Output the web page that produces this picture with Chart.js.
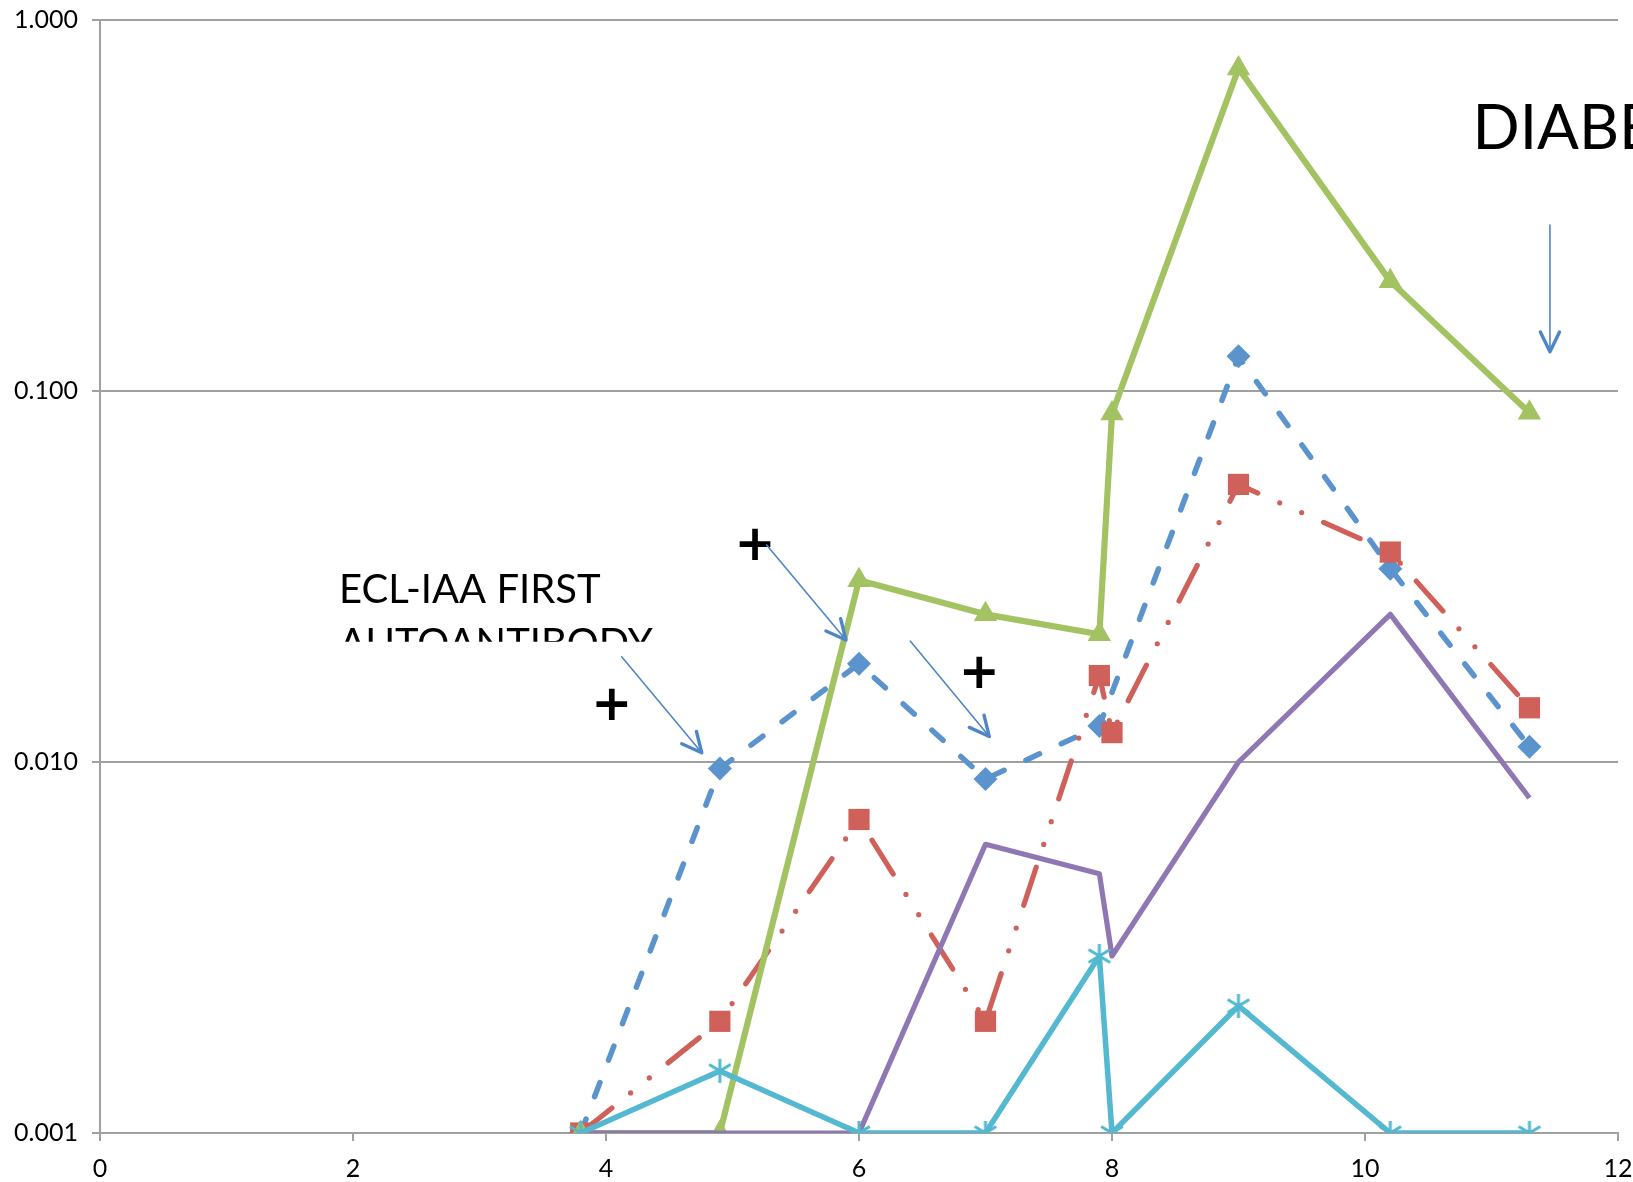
<!DOCTYPE html>
<html>
<head>
<meta charset="utf-8">
<script src="https://cdn.jsdelivr.net/npm/chart.js@4.4.1/dist/chart.umd.min.js"></script>
<style>
  html, body { margin: 0; padding: 0; background: #ffffff; }
  #wrap { width: 1633px; height: 1182px; }
</style>
</head>
<body>
<div id="wrap"><canvas id="c" width="1633" height="1182"></canvas></div>
<script>
// ---------- DATA ----------
const xTickValues = [0, 2, 4, 6, 8, 10, 12];
const yTickValues = [0.001, 0.01, 0.1, 1];
const yTickLabels = ["0.001", "0.010", "0.100", "1.000"];

const xBlue = [3.8, 4.9, 6.0, 7.0, 7.9, 9.0, 10.2, 11.3];
const yBlue = [0.001, 0.0096, 0.0184, 0.0090, 0.0125, 0.124, 0.0332, 0.0110];

const xRed = [3.8, 4.9, 6.0, 7.0, 7.9, 8.0, 9.0, 10.2, 11.3];
const yRed = [0.001, 0.0020, 0.0070, 0.0020, 0.0171, 0.0120, 0.056, 0.0368, 0.0140];

const xGreen = [3.8, 4.9, 6.0, 7.0, 7.9, 8.0, 9.0, 10.2, 11.3];
const yGreen = [0.001, 0.001, 0.0309, 0.0250, 0.0221, 0.0869, 0.740, 0.1975, 0.0874];

const xPurple = [3.8, 4.9, 6.0, 7.0, 7.9, 8.0, 9.0, 10.2, 11.3];
const yPurple = [0.001, 0.001, 0.001, 0.0060, 0.0050, 0.0030, 0.0100, 0.0250, 0.0080];

const xCyan = [3.8, 4.9, 6.0, 7.0, 7.9, 8.0, 9.0, 10.2, 11.3];
const yCyan = [0.001, 0.00147, 0.001, 0.001, 0.0030, 0.001, 0.0022, 0.001, 0.001];

// annotation anchors in data units
const textNotes = [
  { lines: ["ECL-IAA FIRST", "AUTOANTIBODY"], x: 1.89, y: [0.0269, 0.0192], clipY: 0.0211, size: 40 },
  { lines: ["DIABETES"], x: 10.85, y: [0.448], clipY: null, size: 62 }
];
const plusNotes = [
  { x: 4.045, y: 0.01433 },
  { x: 5.178, y: 0.03869 },
  { x: 6.951, y: 0.01751 }
];
const arrowNotes = [
  { x0: 4.124, y0: 0.01922, x1: 4.757, y1: 0.01059 },
  { x0: 5.270, y0: 0.03846, x1: 5.897, y1: 0.02132 },
  { x0: 6.405, y0: 0.02119, x1: 7.030, y1: 0.01171 },
  { x0: 11.462, y0: 0.2802, x1: 11.462, y1: 0.1276 }
];

// ---------- HELPERS ----------
function pts(xs, ys) { return xs.map((x, i) => ({ x: x, y: ys[i] })); }

const FONT = 'Lato, "Open Sans", "DejaVu Sans", sans-serif';
const GRID = '#a0a0a0';
const CYAN = '#53b8d0';

function zeroPad(scale) {
  scale.paddingLeft = 0; scale.paddingRight = 0;
  scale.paddingTop = 0; scale.paddingBottom = 0;
}

// asterisk marker (X plus vertical stroke), like the spreadsheet "star" marker
function makeAsterisk(size, color, lw) {
  const c = document.createElement('canvas');
  c.width = size; c.height = size;
  const g = c.getContext('2d');
  g.strokeStyle = color; g.lineWidth = lw; g.lineCap = 'butt';
  const r = size / 2 - 1, m = size / 2;
  const d = r * 0.9;
  g.beginPath();
  g.moveTo(m - d, m - d * 0.6); g.lineTo(m + d, m + d * 0.6);
  g.moveTo(m - d, m + d * 0.6); g.lineTo(m + d, m - d * 0.6);
  g.moveTo(m, m - r); g.lineTo(m, m + r);
  g.stroke();
  return c;
}
const asterisk = makeAsterisk(26, CYAN, 3);

const annotationPlugin = {
  id: 'notes',
  afterDraw(chart) {
    const ctx = chart.ctx;
    const xs = chart.scales.x, ys = chart.scales.y;
    ctx.save();
    // texts
    textNotes.forEach(n => {
      ctx.save();
      if (n.clipY !== null) {
        const cy = ys.getPixelForValue(n.clipY);
        ctx.beginPath();
        ctx.rect(0, 0, chart.width, cy);
        ctx.clip();
      }
      ctx.fillStyle = '#000000';
      ctx.font = n.size + 'px ' + FONT;
      ctx.textAlign = 'left';
      ctx.textBaseline = 'alphabetic';
      n.lines.forEach((t, i) => {
        ctx.fillText(t, xs.getPixelForValue(n.x), ys.getPixelForValue(n.y[i]));
      });
      ctx.restore();
    });
    // plus signs
    ctx.fillStyle = '#000000';
    ctx.font = 'bold 49px "DejaVu Sans", sans-serif';
    ctx.textAlign = 'left';
    ctx.textBaseline = 'alphabetic';
    const m = ctx.measureText('+');
    const w = m.actualBoundingBoxLeft + m.actualBoundingBoxRight;
    const h = m.actualBoundingBoxAscent + m.actualBoundingBoxDescent;
    plusNotes.forEach(p => {
      const cx = xs.getPixelForValue(p.x), cy = ys.getPixelForValue(p.y);
      const tx = cx - w / 2 + m.actualBoundingBoxLeft;
      const ty = cy + h / 2 - m.actualBoundingBoxDescent;
      ctx.fillText('+', tx, ty);
    });
    // arrows
    ctx.strokeStyle = '#4f86c6';
    ctx.lineCap = 'round';
    ctx.lineJoin = 'round';
    arrowNotes.forEach(a => {
      const px0 = xs.getPixelForValue(a.x0), py0 = ys.getPixelForValue(a.y0);
      const px1 = xs.getPixelForValue(a.x1), py1 = ys.getPixelForValue(a.y1);
      ctx.lineWidth = 1.6;
      ctx.beginPath();
      ctx.moveTo(px0, py0);
      ctx.lineTo(px1, py1);
      ctx.stroke();
      const ang = Math.atan2(py1 - py0, px1 - px0);
      const L = 22, spread = 0.45;
      ctx.lineWidth = 3.4;
      ctx.beginPath();
      ctx.moveTo(px1 - L * Math.cos(ang - spread), py1 - L * Math.sin(ang - spread));
      ctx.lineTo(px1, py1);
      ctx.lineTo(px1 - L * Math.cos(ang + spread), py1 - L * Math.sin(ang + spread));
      ctx.stroke();
    });
    ctx.restore();
  }
};

const ctx = document.getElementById('c').getContext('2d');
new Chart(ctx, {
  type: 'scatter',
  data: {
    datasets: [
      {
        label: 'Blue', data: pts(xBlue, yBlue), showLine: true, order: 5,
        borderColor: '#5b93cd', borderWidth: 5.5, borderDash: [15, 24], borderCapStyle: 'round',
        pointStyle: 'rectRot', pointRadius: 12, pointBackgroundColor: '#5b93cd', pointBorderWidth: 0
      },
      {
        label: 'Red', data: pts(xRed, yRed), showLine: true, order: 4,
        borderColor: '#cf605a', borderWidth: 5.2, borderDash: [40, 24, 0, 24, 0, 24], borderCapStyle: 'round',
        pointStyle: 'rect', pointRadius: 15, pointBackgroundColor: '#cf605a', pointBorderWidth: 0
      },
      {
        label: 'Green', data: pts(xGreen, yGreen), showLine: true, order: 3,
        borderColor: '#a3c262', borderWidth: 6.2,
        pointStyle: 'triangle', pointRadius: 13.5, pointBackgroundColor: '#a3c262', pointBorderWidth: 0
      },
      {
        label: 'Purple', data: pts(xPurple, yPurple), showLine: true, order: 2,
        borderColor: '#8e77b3', borderWidth: 5.2,
        pointRadius: 0
      },
      {
        label: 'Cyan', data: pts(xCyan, yCyan), showLine: true, order: 1,
        borderColor: CYAN, borderWidth: 5.5,
        pointStyle: asterisk, pointRadius: 13, pointBorderWidth: 0
      }
    ]
  },
  options: {
    responsive: false,
    animation: false,
    devicePixelRatio: 1,
    layout: { padding: { left: 0, right: 15, top: 20, bottom: 0 } },
    plugins: { legend: { display: false }, tooltip: { enabled: false } },
    elements: { line: { tension: 0, borderJoinStyle: 'round' } },
    scales: {
      x: {
        type: 'linear', min: 0, max: 12,
        afterBuildTicks(scale) { scale.ticks = xTickValues.map(v => ({ value: v })); },
        afterFit(scale) { scale.height = 49; zeroPad(scale); },
        ticks: { color: '#000000', font: { family: FONT, size: 25 }, padding: 13, maxRotation: 0,
                 callback: (v) => String(v) },
        grid: { display: true, drawOnChartArea: false, drawTicks: true, tickLength: 8, color: GRID, lineWidth: 2 },
        border: { display: true, color: GRID, width: 2 }
      },
      y: {
        type: 'logarithmic', min: 0.001, max: 1,
        afterBuildTicks(scale) { scale.ticks = yTickValues.map(v => ({ value: v })); },
        afterFit(scale) { scale.width = 100; zeroPad(scale); },
        ticks: { color: '#000000', font: { family: FONT, size: 25 }, padding: 14,
                 callback: (v) => { const i = yTickValues.indexOf(v); return i >= 0 ? yTickLabels[i] : ''; } },
        grid: { display: true, drawTicks: true, tickLength: 8, color: GRID, lineWidth: 2 },
        border: { display: true, color: GRID, width: 2 }
      }
    }
  },
  plugins: [annotationPlugin]
});
</script>
</body>
</html>
